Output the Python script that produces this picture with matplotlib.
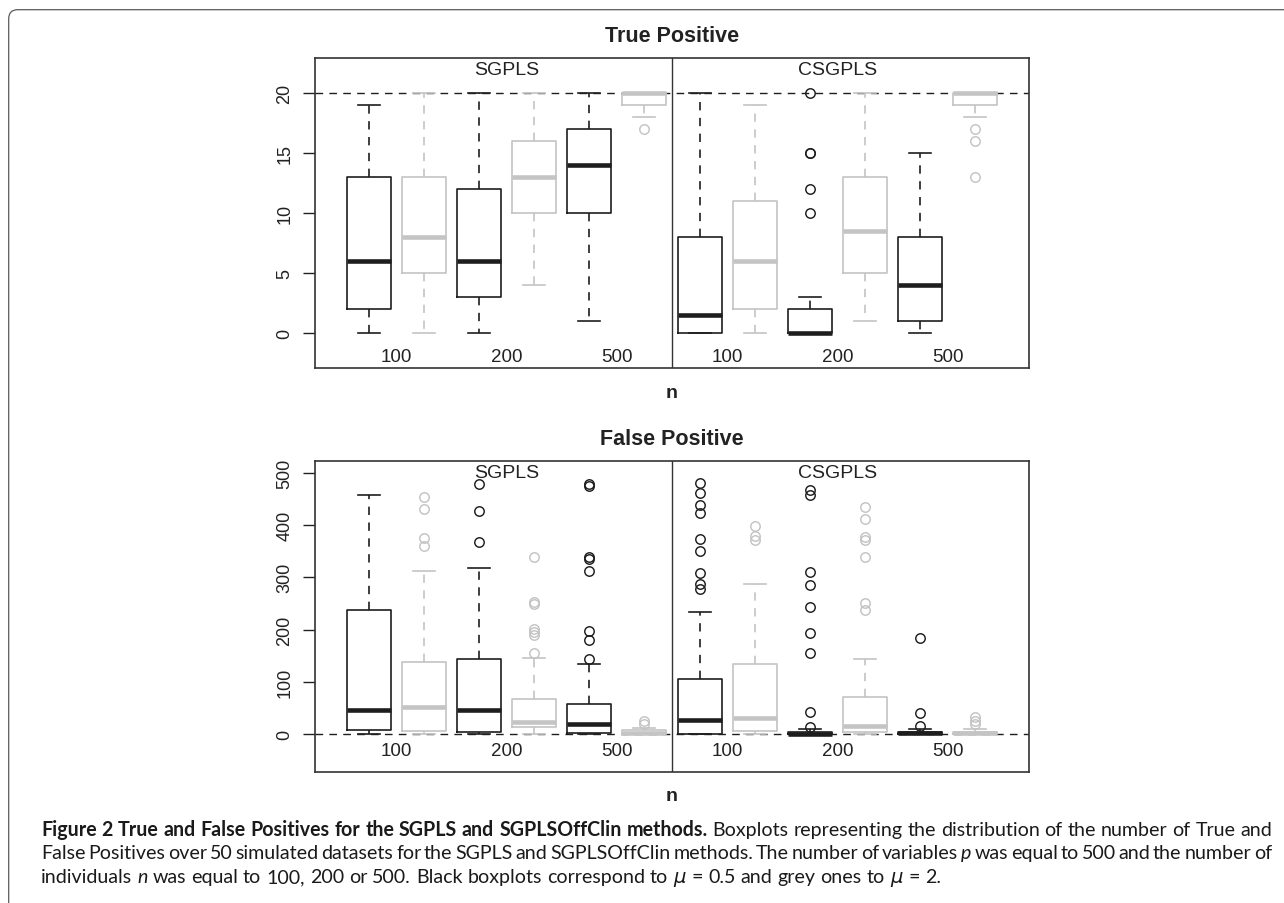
import numpy as np
import matplotlib
matplotlib.use('Agg')
import matplotlib.pyplot as plt
from matplotlib.patches import FancyBboxPatch
from matplotlib.transforms import IdentityTransform

# ---------------- data ----------------
n_values = ['100', '200', '500']
methods = ['SGPLS', 'CSGPLS']
# 12 boxes ordered: method -> n -> mu (black = mu 0.5, grey = mu 2)

tp_whislo = [0, 0, 0, 4, 1, 18, 0, 0, 0, 1, 0, 18]
tp_q1 = [2, 5, 3, 10, 10, 19, 0, 2, 0, 5, 1, 19]
tp_med = [6, 8, 6, 13, 14, 20, 1.5, 6, 0, 8.5, 4, 20]
tp_q3 = [13, 13, 12, 16, 17, 20, 8, 11, 2, 13, 8, 20]
tp_whishi = [19, 20, 20, 20, 20, 20, 20, 19, 3, 20, 15, 20]
tp_fliers = [[], [], [], [], [], [17],
             [], [], [20, 15, 15, 12, 10], [], [], [17, 16, 13]]

fp_whislo = [0, 0, 0, 0, 1, 0, 0, 0, 0, 0, 0, 0]
fp_q1 = [9, 6, 5, 13, 3, 0, 1, 6, 0, 4.5, 0, 0]
fp_med = [46, 53, 46, 24, 20, 3, 27, 31, 1, 15, 2.5, 2.5]
fp_q3 = [238, 139, 143, 67, 58, 8, 106, 135, 5, 72, 5, 5]
fp_whishi = [457, 311, 318, 145, 134, 12, 234, 288, 10, 143, 11, 11]
fp_fliers = [[], [453, 431, 375, 360], [479, 426, 368],
             [338, 253, 248, 202, 196, 190, 156],
             [479, 474, 338, 334, 311, 198, 181, 143], [26, 20],
             [480, 460, 438, 422, 373, 350, 309, 288, 278], [398, 378, 371],
             [467, 457, 310, 285, 244, 193, 155, 43, 13],
             [435, 411, 376, 371, 338, 250, 238], [183, 41, 16], [34, 26, 19]]

tp_yticks = [0, 5, 10, 15, 20]
fp_yticks = [0, 100, 200, 300, 400, 500]

# ---------------- style ----------------
BLACK = '#1e1e1e'
GREY = '#c4c4c4'
W, H = 1284, 904
DPI = 100
FONT = ['Liberation Sans', 'DejaVu Sans']

plt.rcParams['font.family'] = FONT
fig = plt.figure(figsize=(W / DPI, H / DPI), dpi=DPI)


def px_ax(l, t, r, b):
    return [l / W, 1 - b / H, (r - l) / W, (b - t) / H]


def draw_panel(ax, whislo, q1, med, q3, whishi, fliers, ylim, yticks,
               ref, label_y, strip_y, title, title_y, n_y):
    positions = np.arange(1, len(med) + 1)
    for parity, col in ((0, BLACK), (1, GREY)):
        idx = [i for i in range(len(med)) if i % 2 == parity]
        stats = [dict(whislo=whislo[i], q1=q1[i], med=med[i], q3=q3[i],
                      whishi=whishi[i], fliers=fliers[i]) for i in idx]
        ax.bxp(stats, positions=positions[idx], widths=0.8, capwidths=0.4,
               showfliers=True,
               boxprops=dict(color=col, lw=1.2),
               whiskerprops=dict(color=col, lw=1.2, linestyle=(0, (5, 4.5))),
               capprops=dict(color=col, lw=1.2),
               medianprops=dict(color=col, lw=3.3, solid_capstyle='butt'),
               flierprops=dict(marker='o', markersize=6.8, markerfacecolor='none',
                               markeredgecolor=col, markeredgewidth=1.05,
                               linestyle='none'),
               zorder=3)
    ax.set_xlim(0.02, 12.98)
    ax.set_ylim(*ylim)
    ax.axhline(ref, color=BLACK, lw=1.0, linestyle=(0, (5.5, 4.5)), zorder=2)
    ax.axvline(6.5, color='#333333', lw=1.0, zorder=2)
    ax.set_xticks([])
    ax.set_yticks(yticks)
    ax.set_yticklabels([str(v) for v in yticks], rotation=90, va='center')
    ax.tick_params(axis='y', length=8.5, width=1.0, pad=7, labelsize=13,
                   colors='#222222')
    for sp in ax.spines.values():
        sp.set_color('#333333')
        sp.set_linewidth(1.2)
    half = len(med) // 2
    for g in range(2):
        base = positions[g * half:(g + 1) * half]
        centre = base.mean()
        ax.text(centre, strip_y, methods[g], ha='center', va='center',
                fontsize=14, color='#222222')
        for k, lab in enumerate(n_values):
            xpos = base[2 * k:2 * k + 2].mean()
            ax.text(xpos, label_y, lab, ha='center', va='center',
                    fontsize=13.5, color='#222222')
    fig.text(672 / W, 1 - title_y / H, title, ha='center', va='center',
             fontsize=15.5, fontweight='bold', color='#222222')
    fig.text(672 / W, 1 - n_y / H, 'n', ha='center', va='center',
             fontsize=14, fontweight='bold', color='#222222')


ax1 = fig.add_axes(px_ax(315, 59, 1029, 369))
draw_panel(ax1, tp_whislo, tp_q1, tp_med, tp_q3, tp_whishi, tp_fliers,
           (-2.96, 22.96), tp_yticks, 20, -2.0, 22.0, 'True Positive', 36, 394)

ax2 = fig.add_axes(px_ax(315, 462, 1029, 773))
draw_panel(ax2, fp_whislo, fp_q1, fp_med, fp_q3, fp_whishi, fp_fliers,
           (-72, 522), fp_yticks, 0, -31, 500, 'False Positive', 440, 797)

# ---------------- frame ----------------
frame = FancyBboxPatch((8.7, -200), 4000, H - 10.7 + 200,
                       boxstyle='round,pad=0,rounding_size=9',
                       transform=IdentityTransform(), fill=False,
                       ec='#5a5a5a', lw=0.9)
fig.add_artist(frame)

# ---------------- caption ----------------
CAP_FONT = ['Lato', 'DejaVu Sans']
BOLD = {'fontweight': 'bold'}
REG = {}
ITAL = {'fontstyle': 'italic'}

line1 = ([(w, BOLD) for w in 'Figure 2 True and False Positives for the SGPLS and SGPLSOffClin methods.'.split()]
         + [(w, REG) for w in 'Boxplots representing the distribution of the number of True and'.split()])
line2 = ([(w, REG) for w in 'False Positives over 50 simulated datasets for the SGPLS and SGPLSOffClin methods. The number of variables'.split()]
         + [('p', ITAL)]
         + [(w, REG) for w in 'was equal to 500 and the number of'.split()])
line3 = ([('individuals', REG), ('n', ITAL)]
         + [(w, REG) for w in 'was equal to 100, 200 or 500. Black boxplots correspond to'.split()]
         + [(r'$\mu$', REG), ('=', REG), ('0.5', REG)]
         + [(w, REG) for w in 'and grey ones to'.split()]
         + [(r'$\mu$', REG), ('=', REG), ('2.', REG)])

renderer = fig.canvas.get_renderer()
X0, X1 = 41, 1272


def measure(tokens, size):
    widths = []
    for s, st in tokens:
        t = fig.text(0, 0, s, fontsize=size, family=CAP_FONT, **st)
        widths.append(t.get_window_extent(renderer).width)
        t.remove()
    t1 = fig.text(0, 0, 'a a', fontsize=size, family=CAP_FONT)
    t2 = fig.text(0, 0, 'aa', fontsize=size, family=CAP_FONT)
    sp = t1.get_window_extent(renderer).width - t2.get_window_extent(renderer).width
    t1.remove(); t2.remove()
    return widths, sp


size = 12.0
wds, sp = measure(line1, size)
nat = sum(wds) + sp * (len(wds) - 1)
size = size * (X1 - X0) / nat


def draw_line(tokens, baseline, justify):
    wds, sp = measure(tokens, size)
    gap = (X1 - X0 - sum(wds)) / (len(wds) - 1) if justify else sp
    x = X0
    for (s, st), w in zip(tokens, wds):
        fig.text(x / W, 1 - baseline / H, s, fontsize=size, family=CAP_FONT,
                 ha='left', va='baseline', color='#1a1a1a', **st)
        x += w + gap


draw_line(line1, 836, True)
draw_line(line2, 859.5, True)
draw_line(line3, 883, False)

fig.savefig('out.png', dpi=DPI)
